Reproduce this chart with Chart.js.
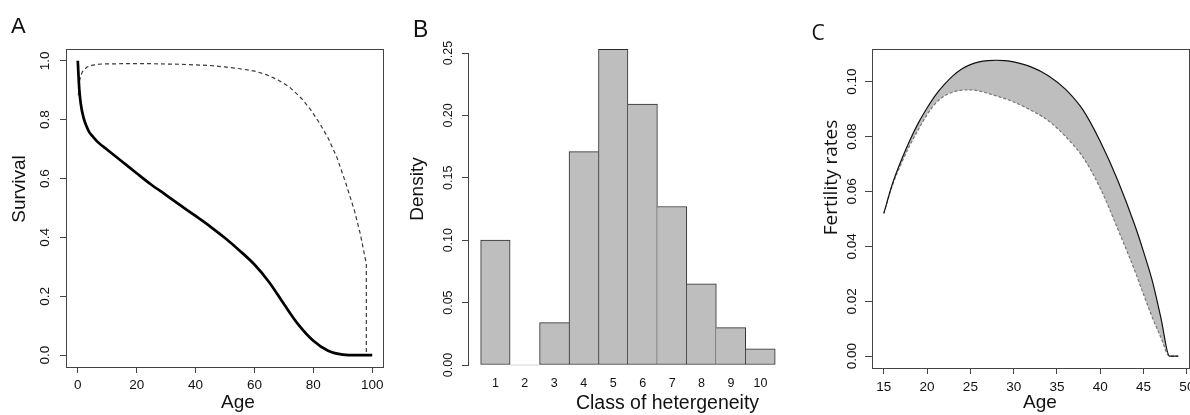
<!DOCTYPE html>
<html>
<head>
<meta charset="utf-8">
<title>Survival, heterogeneity and fertility</title>
<script src="https://cdn.jsdelivr.net/npm/chart.js@4.4.1/dist/chart.umd.min.js"></script>
<style>
  html, body { margin: 0; padding: 0; background: #fff; }
  #wrap { position: relative; width: 1190px; height: 415px; overflow: hidden; }
  #wrap canvas { position: absolute; top: 0; }
  #panel-a { left: 0; }
  #panel-b { left: 395px; }
  #panel-c { left: 790px; }
</style>
</head>
<body>
<div id="wrap">
  <canvas id="panel-a" width="395" height="415"></canvas>
  <canvas id="panel-b" width="395" height="415"></canvas>
  <canvas id="panel-c" width="400" height="415"></canvas>
</div>
<script>
// A - survival curve and conditional survival by age
const survAges = [0, 0.5, 1, 2, 3, 4, 5, 7, 10, 15, 20, 25, 30, 35, 40, 45, 50, 55, 60, 65, 70, 75, 80, 85, 90, 95, 100];
const survival = [1.0, 0.905, 0.855, 0.805, 0.777, 0.756, 0.744, 0.722, 0.698, 0.658, 0.618, 0.579, 0.544, 0.508, 0.473, 0.437, 0.398, 0.355, 0.308, 0.248, 0.174, 0.103, 0.049, 0.015, 0.002, 0.0, 0.0];
const condAges = [0.2, 0.6, 1.5, 3, 5, 8, 15, 25, 35, 45, 50, 55, 60, 64, 68, 72, 76, 79, 82, 85, 88, 91, 94, 96, 97, 98, 98];
const condSurv = [0.883, 0.933, 0.962, 0.978, 0.985, 0.989, 0.99, 0.99, 0.988, 0.984, 0.979, 0.973, 0.965, 0.953, 0.935, 0.91, 0.872, 0.835, 0.79, 0.738, 0.672, 0.585, 0.49, 0.41, 0.36, 0.31, 0.0];
const ageTicksA = [0, 20, 40, 60, 80, 100];
const survTicks = [0, 0.2, 0.4, 0.6, 0.8, 1.0];

// B - histogram of heterogeneity classes
const classes = [1, 2, 3, 4, 5, 6, 7, 8, 9, 10];
const density = [0.100, 0, 0.034, 0.171, 0.253, 0.209, 0.127, 0.065, 0.030, 0.013];
const densTicks = [0, 0.05, 0.10, 0.15, 0.20, 0.25];

// C - fertility band
const fertAges = [15, 16, 17, 18, 19, 20, 21, 22, 23, 24, 25, 26, 27, 28, 29, 30, 32, 34, 36, 38, 40, 42, 44, 45, 46, 47, 48, 49];
const fertHigh = [0.052, 0.0628, 0.0712, 0.0786, 0.0850, 0.0904, 0.0952, 0.0990, 0.1022, 0.1046, 0.1062, 0.1072, 0.1077, 0.1078, 0.1077, 0.1072, 0.1054, 0.1022, 0.0972, 0.0897, 0.0782, 0.0642, 0.0476, 0.0380, 0.0275, 0.0140, 0.0, 0.0];
const fertLow = [0.052, 0.0623, 0.0700, 0.0768, 0.0826, 0.0880, 0.0922, 0.0948, 0.0962, 0.0969, 0.0970, 0.0966, 0.0958, 0.0948, 0.0938, 0.0926, 0.0896, 0.0858, 0.0800, 0.0725, 0.0612, 0.0465, 0.0310, 0.0225, 0.0142, 0.0068, 0.0, 0.0];
const ageTicksC = [15, 20, 25, 30, 35, 40, 45, 50];
const fertTicks = [0, 0.02, 0.04, 0.06, 0.08, 0.10];

const FONT = "'Liberation Sans', Arial, Helvetica, sans-serif";
const FONT_C = "'Open Sans', 'Liberation Sans', sans-serif";
const INK = '#111';
const AXIS = '#444';
const GREY = '#bebebe';

function pairs(xs, ys) {
    return xs.map((x, i) => ({ x: x, y: ys[i] }));
}

// put ticks exactly where R puts them
function fixTicks(values) {
    return function (scale) {
        scale.ticks = values.map(v => ({ value: v }));
    };
}

// fixed axis sizes so the plot boxes line up across the three panels
function fixSize(w, h) {
    return function (scale) {
        if (w !== null) scale.width = w;
        if (h !== null) scale.height = h;
        scale.paddingLeft = 0;
        scale.paddingRight = 0;
        scale.paddingTop = 0;
        scale.paddingBottom = 0;
    };
}

// box around the plotting region (bty = "o")
const frame = {
    id: 'frame',
    afterDatasetsDraw(chart) {
        const a = chart.chartArea;
        const ctx = chart.ctx;
        const l = Math.round(a.left) + 0.5, t = Math.round(a.top) + 0.5;
        const r = Math.round(a.right) - 0.5, b = Math.round(a.bottom) + 0.5;
        ctx.save();
        ctx.strokeStyle = AXIS;
        ctx.lineWidth = 1;
        ctx.strokeRect(l, t, r - l, b - t);
        ctx.restore();
    }
};

// panel letter and axis titles
function captions(items) {
    return {
        id: 'captions',
        afterDraw(chart) {
            const ctx = chart.ctx;
            items.forEach(function (c) {
                ctx.save();
                ctx.font = c.font;
                ctx.fillStyle = INK;
                ctx.textAlign = c.align || 'center';
                ctx.textBaseline = c.base || 'middle';
                ctx.translate(c.x, c.y);
                if (c.vertical) ctx.rotate(-Math.PI / 2);
                ctx.fillText(c.text, 0, 0);
                ctx.restore();
            });
        }
    };
}

const common = {
    responsive: false,
    animation: false,
    events: []
};

// ---- A ----
new Chart(document.getElementById('panel-a'), {
    type: 'line',
    data: {
        datasets: [{
            data: pairs(survAges, survival),
            borderColor: '#000',
            borderWidth: 2.7,
            pointRadius: 0,
            cubicInterpolationMode: 'monotone',
            fill: false
        }, {
            data: pairs(condAges, condSurv),
            borderColor: '#3a3a3a',
            borderWidth: 1.2,
            borderDash: [4, 3],
            pointRadius: 0,
            tension: 0,
            fill: false
        }]
    },
    options: Object.assign({}, common, {
        layout: { padding: { left: 0, top: 49, right: 11, bottom: 0 } },
        plugins: { legend: { display: false }, tooltip: { enabled: false } },
        scales: {
            x: {
                type: 'linear', min: -4, max: 104,
                afterBuildTicks: fixTicks(ageTicksA),
                afterFit: fixSize(null, 48),
                grid: { drawOnChartArea: false, tickLength: 6, color: AXIS },
                border: { display: false },
                ticks: { font: { family: FONT, size: 13.5 }, color: INK, padding: 4.5, maxRotation: 0, autoSkip: false }
            },
            y: {
                type: 'linear', min: -0.04, max: 1.04,
                afterBuildTicks: fixTicks(survTicks),
                afterFit: fixSize(66, null),
                grid: { drawOnChartArea: false, tickLength: 6, color: AXIS },
                border: { display: false },
                ticks: {
                    font: { family: FONT, size: 13.5 }, color: INK, padding: 5.5,
                    minRotation: 90, maxRotation: 90, crossAlign: 'center', autoSkip: false,
                    callback: v => v.toFixed(1)
                }
            }
        }
    }),
    plugins: [frame, captions([
        { text: 'A', x: 11, y: 33, font: '22px ' + FONT, align: 'left', base: 'alphabetic' },
        { text: 'Survival', x: 20, y: 189, font: '19px ' + FONT, vertical: true },
        { text: 'Age', x: 238, y: 403, font: '19px ' + FONT }
    ])]
});

// ---- B ----
new Chart(document.getElementById('panel-b'), {
    type: 'bar',
    data: {
        datasets: [{
            data: pairs(classes, density),
            backgroundColor: GREY,
            borderColor: '#2b2b2b',
            // shared edges are drawn once, by the taller neighbour
            borderWidth: function (c) {
                const i = c.dataIndex;
                const h = density[i];
                return {
                    top: 1,
                    bottom: 1,
                    left: (i === 0 || h >= density[i - 1]) ? 1 : 0,
                    right: (i === density.length - 1 || h > density[i + 1]) ? 1 : 0
                };
            },
            borderSkipped: false,
            barPercentage: 1,
            categoryPercentage: 1,
            clip: false
        }]
    },
    options: Object.assign({}, common, {
        layout: { padding: { left: 0, top: 53, right: 3, bottom: 0 } },
        plugins: { legend: { display: false }, tooltip: { enabled: false } },
        scales: {
            x: {
                type: 'linear', min: 0.07, max: 10.9, offset: false,
                afterBuildTicks: fixTicks(classes),
                afterFit: fixSize(null, 50),
                grid: { display: false, drawTicks: false },
                border: { display: false },
                ticks: { font: { family: FONT, size: 12.5 }, color: INK, padding: 11, maxRotation: 0, autoSkip: false }
            },
            y: {
                type: 'linear', min: 0, max: 0.25,
                afterBuildTicks: fixTicks(densTicks),
                afterFit: fixSize(73, null),
                grid: { drawOnChartArea: false, tickLength: 6, color: AXIS },
                border: { display: true, color: AXIS },
                ticks: {
                    font: { family: FONT, size: 12.5 }, color: INK, padding: 1.5,
                    minRotation: 90, maxRotation: 90, crossAlign: 'center', autoSkip: false,
                    callback: v => v.toFixed(2)
                }
            }
        }
    }),
    plugins: [captions([
        { text: 'B', x: 18, y: 37, font: '23px ' + FONT, align: 'left', base: 'alphabetic' },
        { text: 'Density', x: 22.5, y: 189, font: '19px ' + FONT, vertical: true },
        { text: 'Class of hetergeneity', x: 272.5, y: 403.5, font: '19.5px ' + FONT }
    ])]
});

// ---- C ----
new Chart(document.getElementById('panel-c'), {
    type: 'line',
    data: {
        datasets: [{
            data: pairs(fertAges, fertHigh),
            borderColor: '#111',
            borderWidth: 1.2,
            pointRadius: 0,
            cubicInterpolationMode: 'monotone',
            backgroundColor: GREY,
            fill: '+1'
        }, {
            data: pairs(fertAges, fertLow),
            borderColor: '#777',
            borderWidth: 1.2,
            borderDash: [3, 2],
            pointRadius: 0,
            cubicInterpolationMode: 'monotone',
            fill: false
        }]
    },
    options: Object.assign({}, common, {
        layout: { padding: { left: 0, top: 49, right: 0, bottom: 0 } },
        plugins: {
            legend: { display: false },
            tooltip: { enabled: false },
            filler: { drawTime: 'beforeDatasetsDraw' }
        },
        scales: {
            x: {
                type: 'linear', min: 13.64, max: 50.36,
                afterBuildTicks: fixTicks(ageTicksC),
                afterFit: fixSize(null, 47),
                grid: { drawOnChartArea: false, tickLength: 6, color: AXIS },
                border: { display: false },
                ticks: { font: { family: FONT, size: 13.5 }, color: INK, padding: 5.5, maxRotation: 0, autoSkip: false }
            },
            y: {
                type: 'linear', min: -0.0043, max: 0.1119,
                afterBuildTicks: fixTicks(fertTicks),
                afterFit: fixSize(82, null),
                grid: { drawOnChartArea: false, tickLength: 7, color: AXIS },
                border: { display: false },
                ticks: {
                    font: { family: FONT, size: 13.5 }, color: INK, padding: 0,
                    minRotation: 90, maxRotation: 90, crossAlign: 'center', autoSkip: false,
                    callback: v => v.toFixed(2)
                }
            }
        }
    }),
    plugins: [frame, captions([
        { text: 'C', x: 21.5, y: 39.5, font: '21px ' + FONT_C, align: 'left', base: 'alphabetic' },
        { text: 'Fertility rates', x: 42, y: 177.5, font: '19px ' + FONT_C, vertical: true },
        { text: 'Age', x: 250, y: 403, font: '19px ' + FONT }
    ])]
});
</script>
</body>
</html>
